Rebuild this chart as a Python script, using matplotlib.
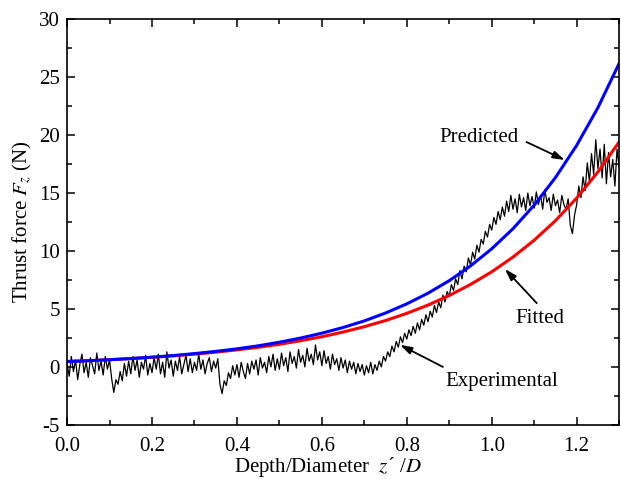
import numpy as np
import matplotlib
matplotlib.use("Agg")
import matplotlib.pyplot as plt
from matplotlib.ticker import MultipleLocator

plt.rcParams['font.family'] = ['Liberation Serif', 'DejaVu Serif']
plt.rcParams['mathtext.fontset'] = 'stix'
plt.rcParams['axes.unicode_minus'] = False

# Smooth curves (read at 0.05 steps)
curve_x = [0.00, 0.05, 0.10, 0.15, 0.20, 0.25, 0.30, 0.35, 0.40, 0.45, 0.50, 0.55, 0.60,
           0.65, 0.70, 0.75, 0.80, 0.85, 0.90, 0.95, 1.00, 1.05, 1.10, 1.15, 1.20, 1.25, 1.30]
predicted = [0.46, 0.53, 0.62, 0.72, 0.84, 0.98, 1.15, 1.34, 1.56, 1.82, 2.13, 2.49, 2.91,
             3.40, 3.97, 4.65, 5.44, 6.36, 7.44, 8.71, 10.19, 11.92, 13.95, 16.33, 19.11, 22.36, 26.18]
fitted = [0.47, 0.54, 0.62, 0.72, 0.83, 0.95, 1.10, 1.27, 1.47, 1.69, 1.95, 2.26, 2.60,
          3.01, 3.47, 4.00, 4.62, 5.33, 6.16, 7.11, 8.20, 9.47, 10.93, 12.61, 14.56, 16.81, 19.40]

# Experimental record, 0.005 step in z'/D
exp_step = 0.005
experimental = [
    0.3, -0.8, 0.9, -0.4, 0.6, -1.1, 0.2, 1.1, -0.5, 0.4, -0.9, 0.8, 0.1, -0.6, 1.2, -0.3, 0.5, -0.7, 0.9, -0.2,
    0.6, -1.0, -2.2, -1.1, -1.5, -0.4, -1.2, 0.3, -0.8, 0.5, -0.6, 0.9, -0.3, 0.6, -0.9, 0.4, -0.2, 1.0, -0.7, 0.3,
    -0.5, 0.8, -0.2, 1.1, -0.6, 0.4, -0.9, 1.3, -0.1, 0.6, -0.8, 0.5, -0.3, 0.9, -0.6, 0.2, 1.0, -0.4, 0.7, -0.5,
    0.4, -0.3, 1.1, -0.2, 0.6, -0.6, 0.3, 0.8, -0.4, 0.5, -0.1, 0.7, -1.5, -2.3, -1.2, -1.6, -0.5, -1.0, 0.1, -0.7,
    0.2, -0.9, 0.4, -0.4, -1.0, 0.3, -0.6, 0.5, -0.2, 0.6, -0.7, 0.8, -0.1, 0.4, -0.5, 0.9, 0.0, 1.1, -0.3, 0.7,
    -0.2, 1.2, 0.1, 0.8, -0.4, 1.3, 0.3, 0.9, -0.1, 1.5, 0.4, 1.0, 0.0, 1.6, 0.5, 1.1, 0.2, 1.9, 0.6, 1.3,
    0.1, 1.4, 0.3, 0.9, -0.2, 1.1, 0.2, 0.7, -0.3, 0.8, -0.1, 0.6, -0.5, 0.5, -0.2, 0.4, -0.6, 0.3, -0.4, 0.2,
    -0.7, 0.1, -0.5, 0.4, -0.6, 0.2, -0.3, 0.5, 0.0, 0.9, 0.5, 1.3, 0.9, 1.8, 1.3, 2.2, 1.7, 2.6, 2.1, 2.9,
    2.4, 3.2, 2.7, 3.5, 2.9, 3.8, 3.2, 4.1, 3.6, 4.5, 3.9, 4.8, 4.3, 5.3, 4.7, 5.6, 5.1, 6.2, 5.6, 6.5,
    6.1, 7.1, 6.6, 7.6, 7.1, 8.3, 7.6, 8.7, 8.2, 9.4, 8.8, 9.9, 9.3, 10.5, 9.9, 11.0, 10.6, 11.7, 11.2, 12.3,
    11.8, 12.9, 12.3, 13.4, 12.7, 13.8, 13.0, 14.3, 13.4, 14.8, 13.6, 14.5, 13.3, 14.9, 13.8, 14.6, 13.5, 15.0, 13.9, 14.7,
    13.7, 15.1, 14.0, 14.8, 13.6, 15.3, 14.2, 14.6, 13.5, 14.9, 13.9, 14.4, 13.3, 14.8, 14.0, 13.6, 14.5, 12.2, 11.5, 13.1,
    14.0, 15.6, 14.6, 16.4, 15.2, 17.6, 16.0, 18.4, 16.6, 19.6, 17.1, 18.8, 16.3, 19.2, 15.8, 18.5, 16.4, 17.9, 15.6, 18.8,
    17.2,
]
exp_x = np.arange(len(experimental)) * exp_step

fig = plt.figure(figsize=(6.21, 4.79), dpi=100)
ax = fig.add_axes([0.108, 0.113, 0.889, 0.847])

ax.plot(exp_x, experimental, color='black', lw=0.9)
ax.plot(curve_x, fitted, color='#ff0000', lw=2.2)
ax.plot(curve_x, predicted, color='#0000ff', lw=2.2)

ax.set_xlim(0, 1.3)
ax.set_ylim(-5, 30)
ax.xaxis.set_major_locator(MultipleLocator(0.2))
ax.xaxis.set_minor_locator(MultipleLocator(0.1))
ax.yaxis.set_major_locator(MultipleLocator(5))
ax.yaxis.set_minor_locator(MultipleLocator(2.5))
ax.xaxis.set_major_formatter(matplotlib.ticker.FormatStrFormatter('%.1f'))
ax.tick_params(which='both', direction='in', top=True, right=True, labelsize=15, width=1.1)
ax.tick_params(which='major', length=6)
ax.tick_params(which='minor', length=3.5)
ax.tick_params(axis='x', which='major', pad=9)
ax.tick_params(axis='y', which='major', pad=5)
for s in ax.spines.values():
    s.set_linewidth(1.2)

ax.set_xlabel("Depth/Diameter  $z$\u00b4 /$D$", fontsize=15)
ax.xaxis.set_label_coords(0.472, -0.075)
ax.set_ylabel("Thrust force $F_z$ (N)", fontsize=15, labelpad=4)

arrow = dict(arrowstyle='-|>,head_length=0.7,head_width=0.22', color='black', lw=1.3, shrinkA=0, shrinkB=0)
ax.text(0.970, 19.8, "Predicted", fontsize=15, ha='center', va='center')
ax.annotate("", xy=(1.172, 17.85), xytext=(1.082, 19.4), arrowprops=arrow)
ax.text(1.113, 4.2, "Fitted", fontsize=15, ha='center', va='center')
ax.annotate("", xy=(1.031, 8.45), xytext=(1.106, 5.5), arrowprops=arrow)
ax.text(1.024, -1.3, "Experimental", fontsize=15, ha='center', va='center')
ax.annotate("", xy=(0.784, 1.9), xytext=(0.885, 0.0), arrowprops=arrow)

fig.savefig("out.png", dpi=100)
